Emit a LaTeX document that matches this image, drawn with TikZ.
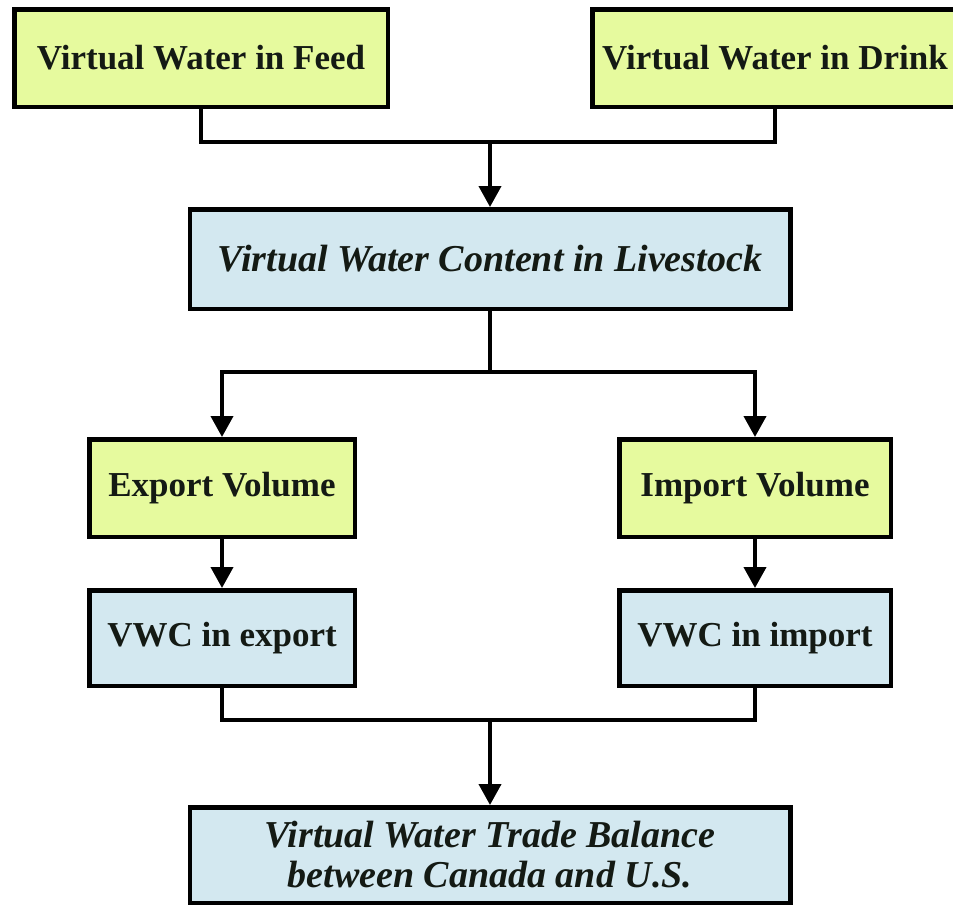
\documentclass[tikz,border=0pt]{standalone}
\usepackage{fontspec}
\setmainfont{Liberation Serif}
\usepackage{tikz}
\usetikzlibrary{positioning, arrows.meta, calc}
\definecolor{feedgreen}{HTML}{E6FA9E}
\definecolor{vwcblue}{HTML}{D3E8F0}
\definecolor{inkdark}{HTML}{141A14}
\tikzset{
	flowbox/.style={draw=black, line width=4.5pt, inner sep=0pt, align=center,
			text=inkdark, font=\fontsize{35}{40}\selectfont\bfseries}
}
\tikzset{
	greenbox/.style={flowbox, fill=feedgreen}
}
\tikzset{
	bluebox/.style={flowbox, fill=vwcblue}
}
\tikzset{
	italicbox/.style={bluebox, font=\fontsize{38}{40}\selectfont\bfseries\itshape}
}
\tikzset{
	flowline/.style={line width=4pt, line join=miter},
	flowarrow/.style={flowline, -{Triangle[length=21pt,width=22pt]}}
}

\begin{document}
\begin{tikzpicture}[x=1pt, y=-1pt]

			\clip (0,0) rectangle (953,905);
			\fill[white] (0,0) rectangle (953,905);

			\begin{scope}
				\node[greenbox, minimum width=373.5pt, minimum height=97.5pt] (feed) at (201,58) {Virtual Water in Feed};
				\node[greenbox, minimum width=365.5pt, minimum height=97.5pt] (drink) at (775,58) {Virtual Water in Drink};
			\end{scope}

			\begin{scope}
				\node[italicbox, minimum width=600.5pt, minimum height=99.5pt] (livestock) at (490,259) {Virtual Water Content in Livestock};
			\end{scope}

			\begin{scope}
				\node[greenbox, minimum width=265.5pt, minimum height=97.5pt] (export) at (222,488) {Export Volume};
				\node[greenbox, minimum width=271.5pt, minimum height=97.5pt] (import) at (755,488) {Import Volume};
				\node[bluebox, minimum width=265.5pt, minimum height=95.5pt] (vwcexport) at (222,638) {VWC in export};
				\node[bluebox, minimum width=271.5pt, minimum height=95.5pt] (vwcimport) at (755,638) {VWC in import};
			\end{scope}

			\begin{scope}
				\node[italicbox, minimum width=600.5pt, minimum height=95.5pt] (balance) at (490,855) {Virtual Water Trade Balance\\between Canada and U.S.};
			\end{scope}

			\coordinate (jA) at (490,142);
			\coordinate (jB) at (490,372);
			\coordinate (jC) at (490,720);

			\draw[flowline] (feed.south) |- (jA) -| (drink.south);
			\draw[flowarrow] (jA) -- (livestock.north);

			\draw[flowline] (livestock.south) -- (jB);
			\draw[flowarrow] (jB) -| (export.north);
			\draw[flowarrow] (jB) -| (import.north);

			\draw[flowarrow] (export) -- (vwcexport);
			\draw[flowarrow] (import) -- (vwcimport);

			\draw[flowline] (vwcexport.south) |- (jC) -| (vwcimport.south);
			\draw[flowarrow] (jC) -- (balance.north);

		\end{tikzpicture}
\end{document}
